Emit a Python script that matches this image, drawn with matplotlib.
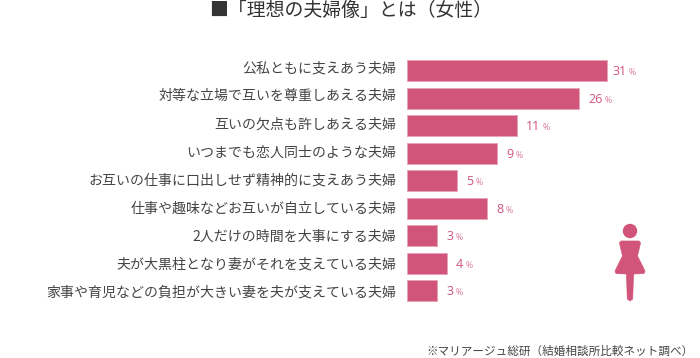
import matplotlib
matplotlib.use("Agg")
import matplotlib.pyplot as plt
from matplotlib.patches import Circle, PathPatch
from matplotlib.path import Path
from matplotlib.transforms import Affine2D

plt.rcParams['font.family'] = ['Noto Sans CJK JP', 'DejaVu Sans']

categories = ["公私ともに支えあう夫婦", "対等な立場で互いを尊重しあえる夫婦", "互いの欠点も許しあえる夫婦",
              "いつまでも恋人同士のような夫婦", "お互いの仕事に口出しせず精神的に支えあう夫婦",
              "仕事や趣味などお互いが自立している夫婦", "2人だけの時間を大事にする夫婦",
              "夫が大黒柱となり妻がそれを支えている夫婦", "家事や育児などの負担が大きい妻を夫が支えている夫婦"]
value_labels = ["31", "26", "11", "9", "5", "8", "3", "4", "3"]
# drawn bar lengths (the top two bars are not to scale with their labels)
bar_lengths = [20.0, 17.2, 11.0, 9.0, 5.0, 8.0, 3.0, 4.0, 3.0]

PINK = "#d1557a"
EDGE = "#e8a3b8"
W, H = 700, 358
PT = 72 / 100  # points per pixel

fig = plt.figure(figsize=(7, 3.58), dpi=100, facecolor="white")
top = 70.6 - 13.75
bottom = top + 27.5 * 9
ax = fig.add_axes([407.0 / W, 1 - bottom / H, 240 / W, (bottom - top) / H])
ax.set_xlim(0, 24)
ax.set_ylim(8.5, -0.5)
ax.patch.set_alpha(0)
ys = list(range(len(categories)))
ax.barh(ys, bar_lengths, height=21 / 27.5, color=PINK, edgecolor=EDGE, linewidth=0.7)
ax.set_yticks([])
ax.set_xticks([])
for s in ax.spines.values():
    s.set_visible(False)

# the text rows sit 28 px apart while the bars sit 27.5 px apart
for y, cat in zip(ys, categories):
    ax.annotate(cat, (0, y), xytext=(-10.5 * PT, (2.2 - 0.5 * y) * PT), textcoords="offset points",
                ha="right", va="center", fontsize=10.05, color="#444444")

for y, b, lab in zip(ys, bar_lengths, value_labels):
    gap_px = 6 if y == 0 else 10
    t = ax.annotate(lab, (b, y), xytext=(gap_px * PT - 0.6, -0.8), textcoords="offset points", va="center",
                    ha="left", fontsize=9, color=PINK, family=["Open Sans", "DejaVu Sans"])
    ax.annotate("%", (1, 0.5), xycoords=t, xytext=(1.7, -0.7), textcoords="offset points",
                va="center", ha="left", fontsize=6.3, color="#dd7f9b", family=["Open Sans", "DejaVu Sans"])

fig.text(350.5 / W, 1 - 11 / H, "■「理想の夫婦像」とは（女性）", ha="center", va="center",
         fontsize=13.6, color="#333333")
fig.text(694 / W, 1 - 351.5 / H, "※マリアージュ総研（結婚相談所比較ネット調べ）", ha="right", va="center",
         fontsize=8.37, color="#444444")

# person icon, in pixels (y down)
px = Affine2D().scale(1, -1).translate(0, H) + fig.dpi_scale_trans.inverted() + fig.dpi_scale_trans
fig.add_artist(Circle((630, 231), 7.2, transform=px, color=PINK, lw=0))
verts = [(621, 241), (639, 241), (640.5, 243), (637.5, 256), (645, 271), (644, 273.5),
         (633.5, 274), (632.7, 299), (630, 301), (627.3, 299), (626.5, 274), (616, 273.5),
         (615, 271), (622.5, 256), (619.5, 243), (621, 241)]
codes = [Path.MOVETO] + [Path.LINETO] * (len(verts) - 2) + [Path.CLOSEPOLY]
fig.add_artist(PathPatch(Path(verts, codes), transform=px, facecolor=PINK, edgecolor=PINK, lw=0.5))

fig.savefig("out.png", dpi=100)
